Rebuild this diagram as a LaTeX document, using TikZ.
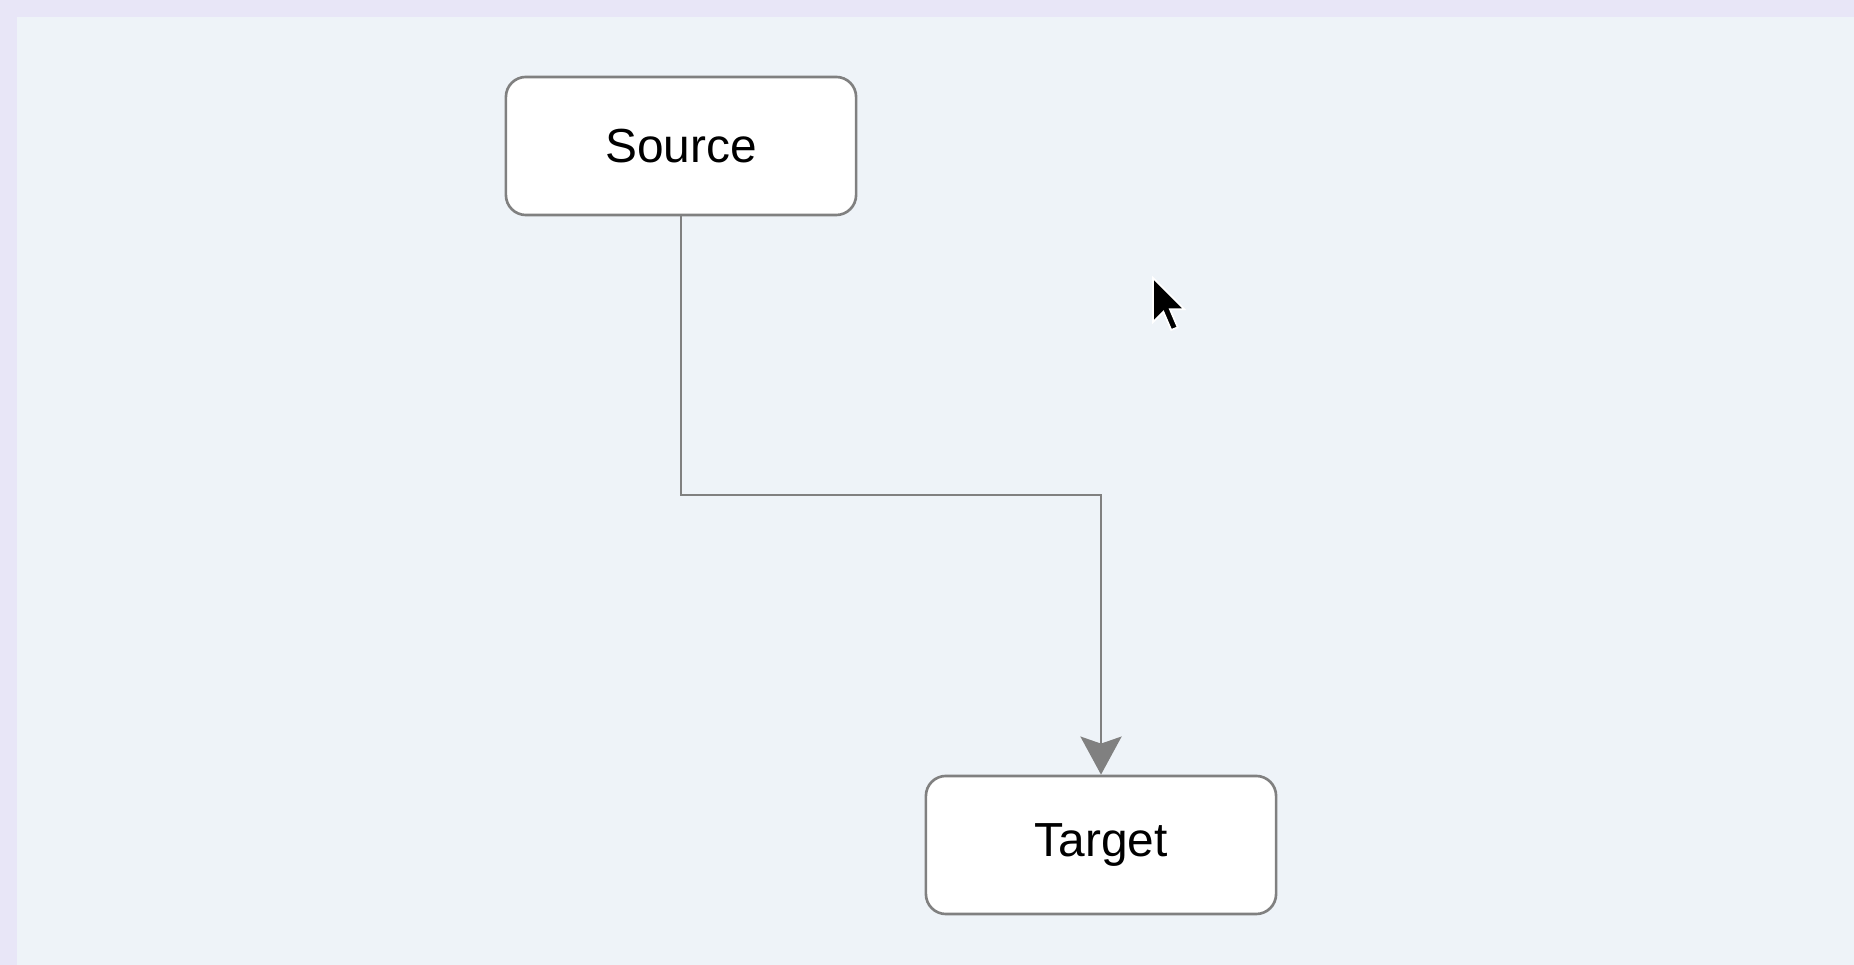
\documentclass[tikz,border=0pt]{standalone}
\usepackage{fontspec}
\setmainfont{Liberation Sans}
\usetikzlibrary{arrows.meta}
\definecolor{outerBg}{HTML}{E8E6F7}
\definecolor{panelBg}{HTML}{EEF3F8}
\definecolor{lineGray}{HTML}{808080}
\begin{document}
\begin{tikzpicture}[x=0.01cm,y=-0.01cm,
		box/.style={draw=lineGray,line width=0.75pt,fill=white,rounded corners=0.2cm,
			minimum width=3.5cm,minimum height=1.38cm,inner sep=0pt,
			font=\fontsize{13.6}{16}\selectfont},
		conn/.style={draw=lineGray,line width=0.8pt,
			-{Stealth[length=0.38cm,width=0.41cm,inset=0.07cm,fill=lineGray]}}]
			%Background and panel
			\fill[outerBg] (0,0) rectangle (1854,965);
			\fill[panelBg] (17,17) rectangle (1854,965);
			%The two boxes
			\node [box] (source) at (681,146) {Source};
			\node [box] (target) at (1101,845) {Target};
			%Bends of the connector
			\coordinate (bendLeft) at (681,495);
			\coordinate (bendRight) at (1101,495);
			\draw [conn] (source.south) -- (bendLeft) -- (bendRight) -- (target.north);
			%Mouse pointer
			\coordinate (tip) at (1153,278);
			\filldraw [fill=black,draw=white,line width=0.5pt,shift={(tip)},scale=2.6]
				(0,0) -- (0,17) -- (4,13) -- (7,20) -- (9.5,19) -- (6.5,12) -- (12,12) -- cycle;
\end{tikzpicture}
\end{document}
